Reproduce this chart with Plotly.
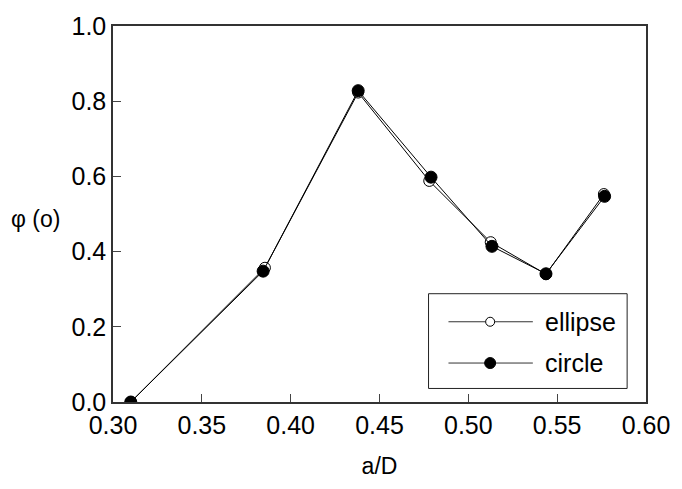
import plotly.graph_objects as go

x_ellipse = [0.310, 0.3855, 0.438, 0.478, 0.5126, 0.5437, 0.5763]
y_ellipse = [0.000, 0.357, 0.823, 0.588, 0.425, 0.340, 0.553]
x_circle = [0.310, 0.3845, 0.438, 0.479, 0.5133, 0.5437, 0.5767]
y_circle = [0.000, 0.348, 0.828, 0.598, 0.414, 0.341, 0.547]
series_names = ["ellipse", "circle"]
x_ticks = [0.30, 0.35, 0.40, 0.45, 0.50, 0.55, 0.60]
y_ticks = [0.0, 0.2, 0.4, 0.6, 0.8, 1.0]

FONT = "Liberation Sans, Arial, sans-serif"

fig = go.Figure()
fig.add_trace(go.Scatter(
    x=x_ellipse, y=y_ellipse, mode="lines+markers", name=series_names[0],
    line=dict(color="black", width=1),
    marker=dict(symbol="circle", size=11, color="white", line=dict(color="black", width=1)),
    showlegend=False,
))
fig.add_trace(go.Scatter(
    x=x_circle, y=y_circle, mode="lines+markers", name=series_names[1],
    line=dict(color="black", width=1),
    marker=dict(symbol="circle", size=12, color="black", line=dict(color="black", width=1)),
    showlegend=False,
))

axis_common = dict(
    showgrid=False, zeroline=False, ticks="inside", ticklen=8, tickwidth=1,
    tickcolor="#444", showline=True, linecolor="#333", linewidth=1.5, mirror=True,
    tickfont=dict(family=FONT, size=25, color="black"), ticklabeloverflow="allow",
)
fig.update_xaxes(range=[0.3, 0.6], tickvals=x_ticks, tickformat=".2f", **axis_common,
                 title=dict(text="a/D", font=dict(family=FONT, size=23, color="black"), standoff=20))
fig.update_yaxes(range=[0, 1], tickvals=y_ticks, tickformat=".1f", **axis_common)

fig.add_annotation(text="φ (o)", xref="paper", yref="paper", x=-0.145, y=0.486,
                   showarrow=False, font=dict(family=FONT, size=23, color="black"),
                   xanchor="center", yanchor="middle")

# Legend drawn as layout decoration (box, sample lines, markers, labels)
leg_x0, leg_x1, leg_y0, leg_y1 = 0.592, 0.9646, 0.036, 0.288
row_y = [0.2134, 0.1036]
line_x0, line_x1, mark_x, text_x = 0.6294, 0.7877, 0.7076, 0.8063
fig.add_shape(type="rect", xref="paper", yref="paper", x0=leg_x0, x1=leg_x1, y0=leg_y0, y1=leg_y1,
              line=dict(color="#222", width=1), fillcolor="white", layer="above")
fills = ["white", "black"]
msize = [4.5, 5.5]
for i, name in enumerate(series_names):
    fig.add_shape(type="line", xref="paper", yref="paper", x0=line_x0, x1=line_x1,
                  y0=row_y[i], y1=row_y[i], line=dict(color="#333", width=1), layer="above")
    fig.add_shape(type="circle", xref="paper", yref="paper", xsizemode="pixel", ysizemode="pixel",
                  xanchor=mark_x, yanchor=row_y[i], x0=-msize[i], x1=msize[i], y0=-msize[i], y1=msize[i],
                  line=dict(color="black", width=1), fillcolor=fills[i], layer="above")
    fig.add_annotation(text=name, xref="paper", yref="paper", x=text_x, y=row_y[i],
                       xanchor="left", yanchor="middle", showarrow=False,
                       font=dict(family=FONT, size=25, color="black"))

fig.update_layout(
    width=682, height=489,
    margin=dict(l=113, r=32, t=13, b=87),
    plot_bgcolor="white", paper_bgcolor="white",
    showlegend=False,
)
fig.write_html("out.html")
